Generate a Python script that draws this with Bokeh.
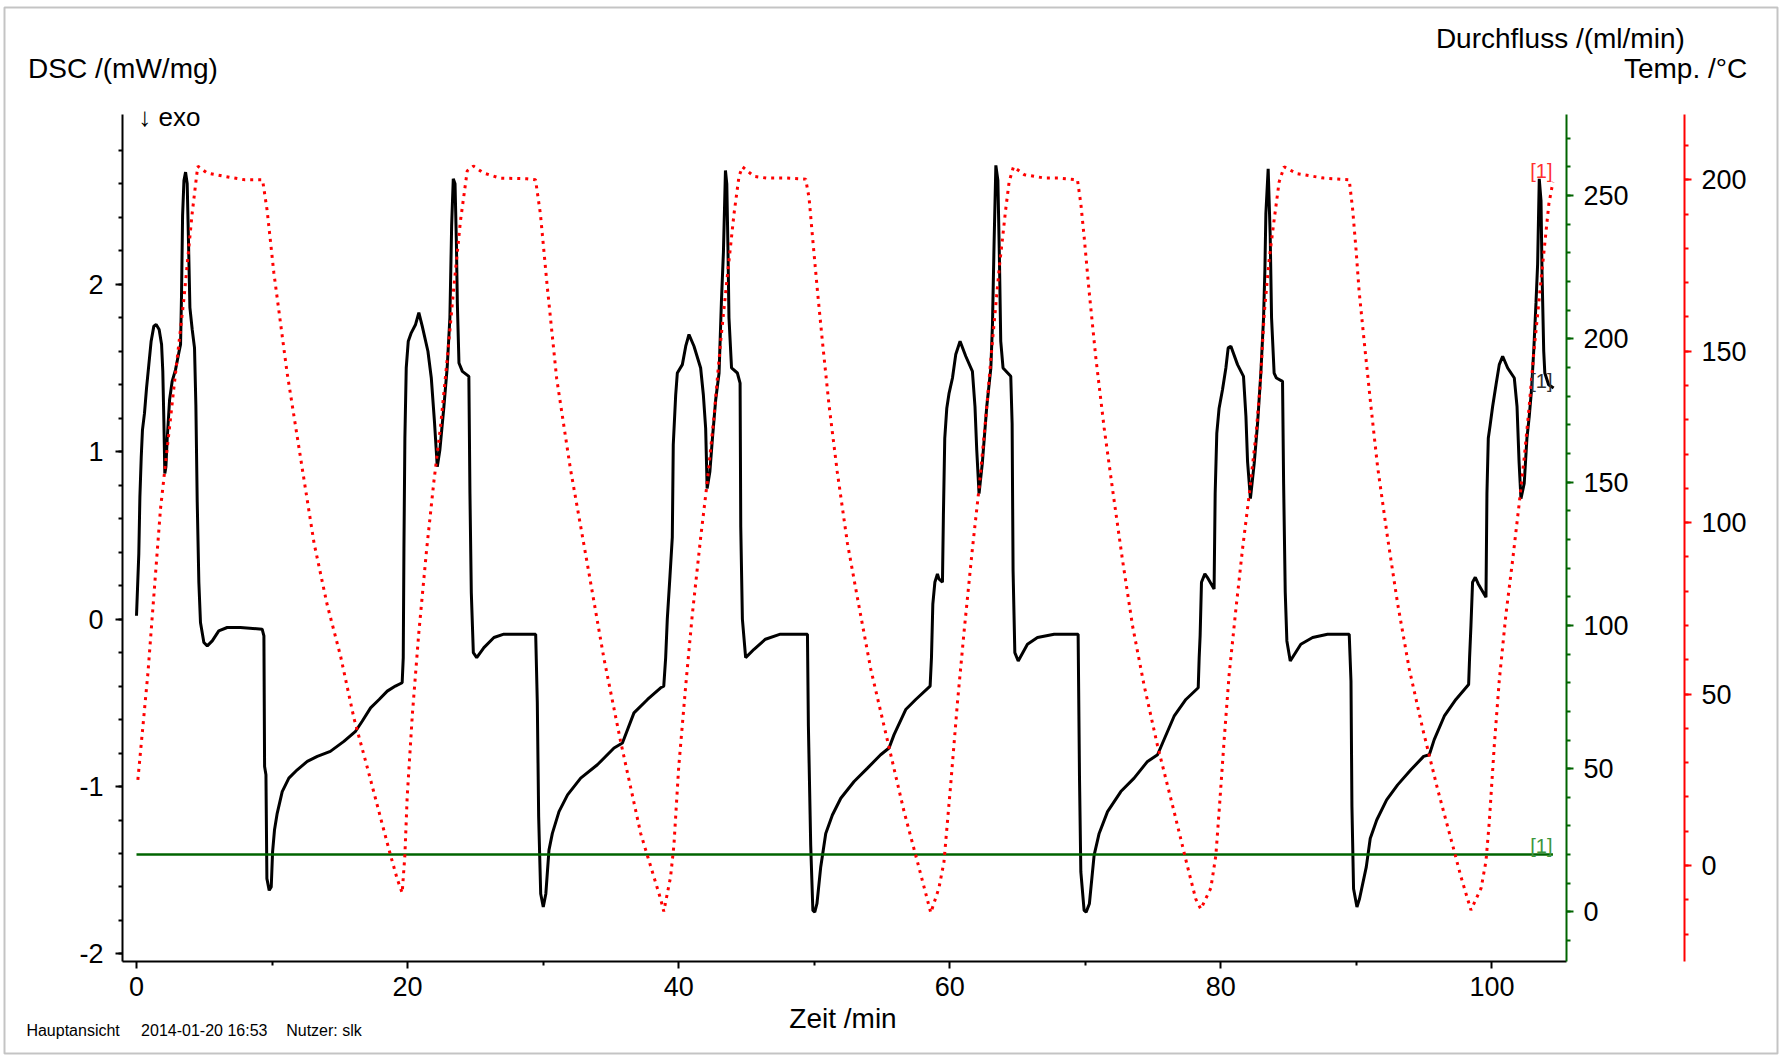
from bokeh.plotting import figure
from bokeh.models import Range1d, LinearAxis, FixedTicker, Label, BoxAnnotation
from bokeh.embed import file_html
from bokeh.resources import INLINE

FONT = "Liberation Sans"

# ---------------- data ----------------
# DSC signal, (time / min, DSC / (mW/mg))
dsc_points = [
    (0.00, 0.02), (0.17, 0.39), (0.25, 0.73), (0.35, 0.97), (0.44, 1.13), (0.59, 1.23), (0.74, 1.38),
    (0.91, 1.52), (1.08, 1.66), (1.28, 1.75), (1.45, 1.76), (1.67, 1.73), (1.85, 1.64), (1.94, 1.48),
    (2.02, 1.18), (2.09, 0.87), (2.17, 0.91), (2.26, 1.07), (2.44, 1.31), (2.63, 1.42), (2.88, 1.49),
    (3.12, 1.59), (3.25, 1.64), (3.32, 1.93), (3.40, 2.41), (3.50, 2.62), (3.62, 2.67), (3.74, 2.60),
    (3.84, 2.24), (3.94, 1.86), (4.11, 1.73), (4.28, 1.62), (4.38, 1.28), (4.48, 0.70), (4.60, 0.22),
    (4.72, -0.02), (4.97, -0.14), (5.22, -0.16), (5.59, -0.13), (6.07, -0.07), (6.69, -0.05),
    (7.67, -0.05), (9.27, -0.06), (9.40, -0.10), (9.45, -0.88), (9.55, -0.93), (9.62, -1.55),
    (9.79, -1.62), (9.94, -1.60), (10.04, -1.39), (10.18, -1.26), (10.38, -1.16), (10.75, -1.03),
    (11.24, -0.95), (11.86, -0.90), (12.60, -0.85), (13.34, -0.82), (14.30, -0.79), (15.30, -0.73),
    (16.16, -0.67), (16.65, -0.61), (17.27, -0.53), (17.90, -0.48), (18.50, -0.43), (19.10, -0.40),
    (19.60, -0.38),
    (19.68, -0.23), (19.73, 0.42), (19.80, 1.08), (19.90, 1.50), (20.05, 1.66), (20.27, 1.71),
    (20.59, 1.76), (20.83, 1.83), (21.08, 1.75), (21.50, 1.60), (21.75, 1.44), (21.99, 1.17),
    (22.19, 0.91), (22.38, 1.01), (22.68, 1.27), (22.92, 1.50), (23.12, 1.80), (23.25, 2.35),
    (23.37, 2.63), (23.50, 2.60), (23.60, 2.25), (23.67, 1.89), (23.79, 1.53), (24.04, 1.48),
    (24.52, 1.45), (24.60, 0.75), (24.70, 0.16), (24.85, -0.20), (25.10, -0.23), (25.63, -0.17),
    (26.37, -0.11), (27.10, -0.09), (29.45, -0.09), (29.57, -0.50), (29.67, -1.18), (29.82, -1.64),
    (30.01, -1.72), (30.20, -1.64), (30.43, -1.38), (30.68, -1.28), (31.17, -1.15), (31.80, -1.05),
    (32.77, -0.95), (34.00, -0.87), (35.23, -0.77), (35.85, -0.74), (36.70, -0.56), (37.70, -0.48),
    (38.67, -0.41), (38.90, -0.40),
    (39.04, -0.23), (39.16, 0.00), (39.36, 0.26), (39.53, 0.49), (39.60, 1.04), (39.78, 1.34),
    (39.90, 1.47), (40.27, 1.52), (40.52, 1.63), (40.76, 1.70), (41.13, 1.63), (41.62, 1.50),
    (41.82, 1.34), (41.99, 1.14), (42.10, 0.78), (42.30, 0.88), (42.49, 1.08), (42.73, 1.31),
    (42.98, 1.47), (43.15, 1.89), (43.30, 2.19), (43.45, 2.68), (43.55, 2.60), (43.64, 2.19),
    (43.71, 1.80), (43.90, 1.50), (44.33, 1.47), (44.53, 1.41), (44.58, 0.55), (44.70, 0.00),
    (44.94, -0.23), (45.56, -0.18), (46.40, -0.12), (47.50, -0.09), (49.50, -0.09), (49.57, -0.64),
    (49.74, -1.35), (49.90, -1.74), (50.04, -1.75), (50.20, -1.70), (50.48, -1.48), (50.85, -1.28),
    (51.34, -1.17), (51.96, -1.07), (52.94, -0.97), (53.93, -0.89), (54.90, -0.81), (55.52, -0.77),
    (55.89, -0.69), (56.75, -0.54), (57.49, -0.48), (58.55, -0.40),
    (58.65, -0.23), (58.75, 0.09), (58.90, 0.22), (59.09, 0.27), (59.20, 0.24), (59.46, 0.22),
    (59.53, 0.62), (59.63, 1.08), (59.78, 1.26), (59.95, 1.35), (60.20, 1.44), (60.44, 1.58),
    (60.76, 1.66), (61.18, 1.57), (61.67, 1.48), (61.86, 1.27), (61.99, 1.01), (62.16, 0.75),
    (62.40, 0.93), (62.73, 1.27), (63.03, 1.50), (63.15, 1.76), (63.27, 2.25), (63.40, 2.71),
    (63.55, 2.62), (63.67, 2.12), (63.76, 1.66), (63.93, 1.50), (64.50, 1.45), (64.60, 1.17),
    (64.67, 0.29), (64.80, -0.20), (65.05, -0.25), (65.73, -0.15), (66.47, -0.11), (67.70, -0.09),
    (69.47, -0.09), (69.57, -0.94), (69.67, -1.51), (69.91, -1.74), (70.06, -1.75), (70.30, -1.70),
    (70.65, -1.41), (71.02, -1.28), (71.64, -1.15), (72.62, -1.03), (73.60, -0.95), (74.59, -0.85),
    (75.33, -0.81), (75.70, -0.74), (76.55, -0.58), (77.42, -0.48), (78.33, -0.41),
    (78.40, -0.23), (78.47, -0.10), (78.57, 0.22), (78.82, 0.27), (79.00, 0.25), (79.50, 0.18),
    (79.58, 0.75), (79.70, 1.11), (79.87, 1.26), (80.12, 1.37), (80.37, 1.50), (80.54, 1.62),
    (80.74, 1.63), (81.23, 1.52), (81.67, 1.45), (81.85, 1.21), (81.97, 0.94), (82.18, 0.72),
    (82.46, 0.93), (82.71, 1.17), (82.95, 1.47), (83.15, 1.80), (83.25, 2.09), (83.32, 2.42),
    (83.49, 2.69), (83.64, 2.29), (83.74, 1.80), (83.93, 1.47), (84.10, 1.44), (84.55, 1.42),
    (84.63, 0.81), (84.75, 0.16), (84.87, -0.13), (85.12, -0.25), (85.90, -0.15), (86.77, -0.11),
    (87.87, -0.09), (89.47, -0.09), (89.60, -0.37), (89.67, -1.12), (89.79, -1.61), (90.04, -1.72),
    (90.23, -1.67), (90.73, -1.48), (91.02, -1.31), (91.50, -1.20), (92.23, -1.08), (93.04, -0.99),
    (94.02, -0.90), (94.96, -0.82), (95.38, -0.81), (95.74, -0.72), (96.48, -0.58), (97.34, -0.48),
    (98.28, -0.39),
    (98.35, -0.23), (98.45, -0.04), (98.57, 0.22), (98.77, 0.25), (98.99, 0.21), (99.56, 0.13),
    (99.63, 0.75), (99.73, 1.08), (99.87, 1.16), (100.05, 1.27), (100.30, 1.40), (100.54, 1.52),
    (100.79, 1.57), (101.16, 1.50), (101.65, 1.44), (101.85, 1.27), (102.00, 0.94), (102.14, 0.72),
    (102.38, 0.81), (102.58, 1.08), (102.75, 1.21), (102.92, 1.37), (103.10, 1.63), (103.25, 1.89),
    (103.37, 2.12), (103.49, 2.63), (103.62, 2.50), (103.69, 2.09), (103.82, 1.60), (103.90, 1.47),
    (104.18, 1.40), (104.55, 1.38),
]

# Temperature, (time / min, Temp. / degC)
temp_points = [
    (0.10, 25.0), (0.84, 56.0), (1.77, 104.0), (2.75, 139.0), (3.49, 165.0), (4.10, 190.0),
    (4.52, 204.0), (5.20, 202.0), (6.50, 201.0), (8.00, 200.0), (9.30, 200.0), (9.64, 191.0),
    (10.13, 173.0), (11.10, 144.0), (12.10, 119.0), (13.10, 94.0), (14.07, 76.0), (15.06, 61.0),
    (16.04, 43.0), (17.00, 29.0), (18.00, 14.0), (18.74, 3.0), (19.24, -4.0), (19.60, -8.0),
    (19.80, 3.0), (19.97, 20.0), (20.35, 44.0), (20.83, 68.0), (21.40, 92.0), (21.94, 112.0),
    (22.43, 128.0), (22.93, 148.0), (23.42, 169.0), (23.90, 188.0), (24.40, 202.6), (24.85, 204.0),
    (25.60, 202.0), (26.80, 200.5), (28.80, 200.3), (29.44, 200.0), (29.80, 190.0), (30.30, 169.0),
    (31.00, 142.0), (32.00, 116.0), (33.26, 88.0), (34.48, 60.5), (35.70, 36.5), (37.20, 9.3),
    (38.67, -9.8), (38.90, -13.4),
    (39.40, -3.4), (39.65, 6.0), (40.00, 28.6), (40.52, 52.5), (41.00, 73.0), (41.62, 95.6),
    (42.10, 111.6), (42.60, 130.7), (43.10, 153.0), (43.60, 172.3), (44.08, 190.0), (44.45, 201.0),
    (44.70, 203.8), (45.56, 201.0), (46.50, 200.5), (48.00, 200.5), (49.37, 200.2), (49.62, 194.7),
    (49.87, 183.5), (50.24, 167.5), (50.60, 153.0), (51.10, 134.0), (51.70, 114.8), (52.45, 94.0),
    (53.19, 78.0), (54.17, 57.3), (55.40, 36.5), (56.63, 15.7), (57.60, 1.3), (58.23, -8.2),
    (58.60, -13.8),
    (59.20, -6.6), (59.57, 1.0), (60.07, 23.7), (60.57, 47.7), (61.06, 68.4), (61.67, 92.4),
    (62.16, 110.0), (62.66, 130.7), (63.15, 153.0), (63.64, 173.9), (64.13, 191.5), (64.38, 199.4),
    (64.70, 203.8), (65.50, 201.5), (67.00, 200.5), (68.00, 200.5), (69.42, 200.0), (69.67, 193.0),
    (69.91, 183.5), (70.28, 167.5), (70.77, 148.3), (71.39, 127.6), (72.00, 110.0), (72.74, 89.2),
    (73.48, 70.0), (74.34, 52.5), (75.33, 34.9), (76.55, 15.7), (77.54, -0.3), (78.15, -9.8),
    (78.52, -12.7),
    (79.26, -6.6), (79.63, 2.9), (79.87, 15.7), (80.24, 36.5), (80.61, 55.7), (81.11, 74.8),
    (81.60, 92.4), (82.10, 108.4), (82.60, 126.0), (82.90, 140.0), (83.20, 161.0), (83.57, 177.0),
    (83.93, 188.3), (84.30, 199.4), (84.67, 203.8), (85.60, 201.8), (87.60, 200.5), (89.47, 200.0),
    (89.72, 191.5), (89.96, 180.3), (90.20, 167.5), (90.57, 153.0), (91.07, 134.0), (91.56, 116.4),
    (92.30, 95.6), (93.04, 76.4), (93.90, 57.3), (94.90, 39.7), (96.00, 22.1), (96.98, 7.7),
    (97.72, -3.4), (98.45, -13.0),
    (99.20, -6.6), (99.56, 1.3), (99.80, 12.5), (100.17, 34.9), (100.54, 54.0), (101.03, 73.2),
    (101.53, 89.2), (102.00, 105.2), (102.40, 119.6), (102.75, 134.0), (103.10, 150.0),
    (103.50, 166.0), (103.87, 180.3), (104.20, 193.0), (104.50, 199.4),
]

# Gas flow, (time / min, Durchfluss / (ml/min))
flow_points = [(0.0, 20.0), (104.5, 20.0)]

# ticks
time_ticks = [0, 20, 40, 60, 80, 100]
time_minor = [10, 30, 50, 70, 90]
dsc_ticks = [-2, -1, 0, 1, 2]
dsc_minor = [-2.0, -1.8, -1.6, -1.4, -1.2, -1.0, -0.8, -0.6, -0.4, -0.2, 0.0, 0.2, 0.4, 0.6, 0.8,
             1.0, 1.2, 1.4, 1.6, 1.8, 2.0, 2.2, 2.4, 2.6, 2.8]
flow_ticks = [0, 50, 100, 150, 200, 250]
flow_minor = [-10, 0, 10, 20, 30, 40, 50, 60, 70, 80, 90, 100, 110, 120, 130, 140, 150, 160, 170,
              180, 190, 200, 210, 220, 230, 240, 250, 260, 270]
temp_ticks = [0, 50, 100, 150, 200]
temp_minor = [-20, -10, 0, 10, 20, 30, 40, 50, 60, 70, 80, 90, 100, 110, 120, 130, 140, 150, 160,
              170, 180, 190, 200, 210]

# axis extents (data units)
T_START, T_END = -1.033, 105.5
DSC_START, DSC_END = -2.045, 3.014
FLOW_START, FLOW_END = -17.3, 278.3
TEMP_START, TEMP_END = -28.0, 219.05

# ---------------- layout (pixels) ----------------
W, H = 1780, 1056
AL, AR, AT, AB = 122, 1566, 114, 961      # the axes box on the canvas
RED_AXIS_X = 1684                          # second right axis


def extend(lo, hi, a, b, n):
    """range covering the whole canvas so that lo..hi maps to pixels a..b of n"""
    s = (hi - lo) / (b - a)
    return lo - a * s, hi + (n - b) * s


x0, x1 = extend(T_START, T_END, AL, AR, W)
y0, y1 = extend(DSC_START, DSC_END, H - AB, H - AT, H)
f0, f1 = extend(FLOW_START, FLOW_END, H - AB, H - AT, H)
r0, r1 = extend(TEMP_START, TEMP_END, H - AB, H - AT, H)

p = figure(width=W, height=H, output_backend="svg", toolbar_location=None,
           x_range=Range1d(x0, x1), y_range=Range1d(y0, y1),
           min_border=0, min_border_left=0, min_border_right=0, min_border_top=0, min_border_bottom=0)
p.extra_y_ranges = {"flow": Range1d(f0, f1), "temp": Range1d(r0, r1)}
p.outline_line_color = None
p.background_fill_color = "white"
p.border_fill_color = "white"
p.xgrid.grid_line_color = None
p.ygrid.grid_line_color = None


def px_x(cx):
    return x0 + cx * (x1 - x0) / W


def px_y(cy):
    return y1 - cy * (y1 - y0) / H


# page frame
p.add_layout(BoxAnnotation(left=px_x(4), right=px_x(1777), top=px_y(7), bottom=px_y(1053),
                           fill_color=None, fill_alpha=0, line_color="#3c3c3c", line_width=2))


def style_axis(ax, color, standoff=10):
    ax.axis_line_color = color
    ax.axis_line_width = 2
    ax.major_tick_line_color = color
    ax.major_tick_line_width = 2
    ax.minor_tick_line_color = color
    ax.minor_tick_line_width = 2
    ax.major_tick_in = 0
    ax.major_tick_out = 7
    ax.minor_tick_in = 0
    ax.minor_tick_out = 4
    ax.major_label_text_font = FONT
    ax.major_label_text_font_size = "27px"
    ax.major_label_text_color = "black"
    ax.major_label_standoff = standoff
    ax.axis_label = None


xax = p.xaxis[0]
xax.ticker = FixedTicker(ticks=time_ticks, minor_ticks=time_minor)
style_axis(xax, "black", 8)
xax.fixed_location = DSC_START
xax.bounds = (T_START, T_END)

yax = p.yaxis[0]
yax.ticker = FixedTicker(ticks=dsc_ticks, minor_ticks=dsc_minor)
style_axis(yax, "black", 12)
yax.fixed_location = T_START
yax.bounds = (DSC_START, DSC_END)
yax.major_label_overrides = {-2: "-2", -1: "-1"}

GREEN = "#006400"
RED = "#ff0000"

flow_axis = LinearAxis(y_range_name="flow", ticker=FixedTicker(ticks=flow_ticks, minor_ticks=flow_minor))
style_axis(flow_axis, GREEN)
flow_axis.fixed_location = T_END
flow_axis.bounds = (FLOW_START, FLOW_END)
p.add_layout(flow_axis, "right")

temp_axis = LinearAxis(y_range_name="temp", ticker=FixedTicker(ticks=temp_ticks, minor_ticks=temp_minor))
style_axis(temp_axis, RED)
temp_axis.fixed_location = px_x(RED_AXIS_X)
temp_axis.bounds = (TEMP_START, TEMP_END)
p.add_layout(temp_axis, "right")

# ---------------- curves ----------------
p.line([t for t, _ in dsc_points], [v for _, v in dsc_points], color="black", line_width=3)
p.line([t for t, _ in flow_points], [v for _, v in flow_points], y_range_name="flow",
       color=GREEN, line_width=2.5)
p.line([t for t, _ in temp_points], [v for _, v in temp_points], y_range_name="temp",
       color=RED, line_width=3, line_dash="3 5")


# ---------------- texts ----------------
def label(text, cx, cy, size, color="black", align="left"):
    p.add_layout(Label(x=px_x(cx), y=px_y(cy), text=text, text_font=FONT,
                       text_font_size=size, text_color=color, text_align=align,
                       text_baseline="alphabetic"))


label("DSC /(mW/mg)", 27.6, 68.3, "28px")
label("Durchfluss /(ml/min)", 1684.3, 37.7, "28px", align="right")
label("Temp. /°C", 1746.7, 68.3, "28px", align="right")
label("↓ exo", 137.8, 116, "26px")
label("Zeit /min", 842.5, 1018, "28px", align="center")
label("[1]", 1552, 170, "20px", color="#ff3030", align="right")
label("[1]", 1552, 380, "20px", color="#333333", align="right")
label("[1]", 1552, 845, "20px", color="#3c963c", align="right")
label("Hauptansicht", 25.9, 1029.5, "16px")
label("2014-01-20 16:53", 140.6, 1029.5, "16px")
label("Nutzer: slk", 285.7, 1029.5, "16px")

open("out.html", "w").write(file_html(p, INLINE, title="DSC"))
